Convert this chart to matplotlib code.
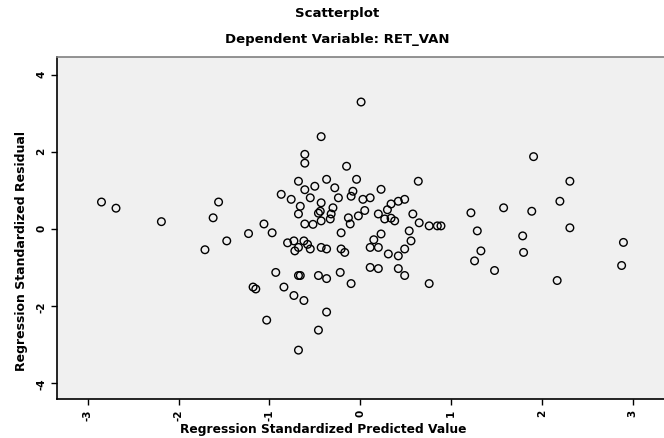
import matplotlib
matplotlib.use("Agg")
import matplotlib.pyplot as plt

plt.rcParams["axes.unicode_minus"] = False

# regression standardized predicted value / residual
pred = [-2.85, -2.69, -2.19, -1.56, -1.62, -1.47, -1.71, -1.23, -1.18, -0.93,
        -0.66, -0.46, -0.37, -0.22, -0.10, -1.15, -0.84, -0.73, -0.62, -0.37,
        -1.03, -0.46, -0.68, -0.68, -0.43, -0.17, 0.11, 0.11, -0.61, -0.15,
        -0.68, -0.50, -0.37, -0.28, -0.04, -0.08, 0.11, 0.23, 0.64, -0.87,
        -0.76, -0.55, -0.43, -0.24, -0.66, -0.44, -0.68, -0.61, -0.43, -0.33,
        -0.13, -0.02, -0.11, -0.21, 0.20, 0.27, 0.38, 0.23, 0.42, 0.49,
        0.58, 0.65, 0.76, 0.85, 0.54, 0.56, -1.06, -0.97, -0.73, -0.62,
        -0.72, -0.55, -0.37, -0.21, 0.20, 0.31, 0.42, 0.49, 0.20, 0.42,
        0.49, -0.68, 0.76, 0.01, -0.43, -0.61, -0.10, 0.03, 0.34, -0.46,
        -0.32, 0.34, 1.91, 2.31, 2.20, 1.89, 1.58, 1.22, 0.89, 1.29,
        1.79, 2.31, 1.33, 1.26, 1.48, 1.80, 2.17, 2.90, 2.88,
        -0.61, -0.52, -0.30, 0.05, 0.15, -0.80, -0.58, 0.30]
resid = [0.70, 0.54, 0.19, 0.70, 0.29, -0.31, -0.54, -0.12, -1.51, -1.13,
         -1.21, -1.21, -1.29, -1.13, -1.42, -1.56, -1.51, -1.73, -1.86, -2.16,
         -2.37, -2.63, -3.15, -0.48, -0.48, -0.61, -0.48, -1.00, 1.71, 1.63,
         1.24, 1.11, 1.29, 1.07, 1.29, 0.98, 0.81, 1.03, 1.24, 0.90,
         0.77, 0.81, 0.68, 0.81, 0.59, 0.46, 0.39, 0.13, 0.21, 0.26,
         0.29, 0.34, 0.13, -0.10, 0.39, 0.26, 0.21, -0.13, 0.72, 0.77,
         0.39, 0.16, 0.08, 0.08, -0.05, -0.31, 0.13, -0.10, -0.31, -0.31,
         -0.57, -0.52, -0.52, -0.52, -0.48, -0.65, -0.70, -0.52, -1.03, -1.03,
         -1.21, -1.21, -1.42, 3.30, 2.40, 1.94, 0.85, 0.77, 0.65, 0.41,
         0.39, 0.28, 1.88, 1.24, 0.72, 0.46, 0.55, 0.42, 0.08, -0.05,
         -0.18, 0.03, -0.57, -0.83, -1.08, -0.61, -1.34, -0.35, -0.95,
         1.02, 0.12, 0.55, 0.48, -0.28, -0.36, -0.40, 0.50]

xticks = [-3, -2, -1, 0, 1, 2, 3]
yticks = [-4, -2, 0, 2, 4]

fig = plt.figure(figsize=(6.64, 4.38), dpi=100)
ax = fig.add_axes([57 / 664, 1 - 399 / 438, 1 - 57 / 664 + 0.01, (399 - 57) / 438])
ax.set_facecolor("#f0f0f0")

ax.scatter(pred, resid, s=30, facecolors="none", edgecolors="black", linewidths=1.0)

ax.set_xlim(-3.34, 3.42)
ax.set_ylim(-4.42, 4.47)
ax.set_xticks(xticks)
ax.set_yticks(yticks)
ax.tick_params(direction="out", length=4, width=1, labelsize=7.5)
for lab in ax.get_xticklabels() + ax.get_yticklabels():
    lab.set_rotation(90)
    lab.set_fontweight("bold")

ax.spines["right"].set_visible(False)
ax.spines["top"].set_color("#808080")
ax.spines["top"].set_linewidth(1.2)
ax.spines["left"].set_linewidth(1.2)
ax.spines["bottom"].set_linewidth(1.2)

fig.text(337 / 664, 1 - 13 / 438, "Scatterplot", ha="center", va="center",
         fontsize=9.5, fontweight="bold")
fig.text(337 / 664, 1 - 40 / 438, "Dependent Variable: RET_VAN", ha="center",
         va="center", fontsize=9.5, fontweight="bold")
fig.text(323 / 664, 1 - 430 / 438, "Regression Standardized Predicted Value",
         ha="center", va="center", fontsize=8.8, fontweight="bold")
fig.text(22 / 664, 1 - 251 / 438, "Regression Standardized Residual",
         ha="center", va="center", rotation=90, fontsize=9, fontweight="bold")

fig.savefig("out.png", dpi=100)
